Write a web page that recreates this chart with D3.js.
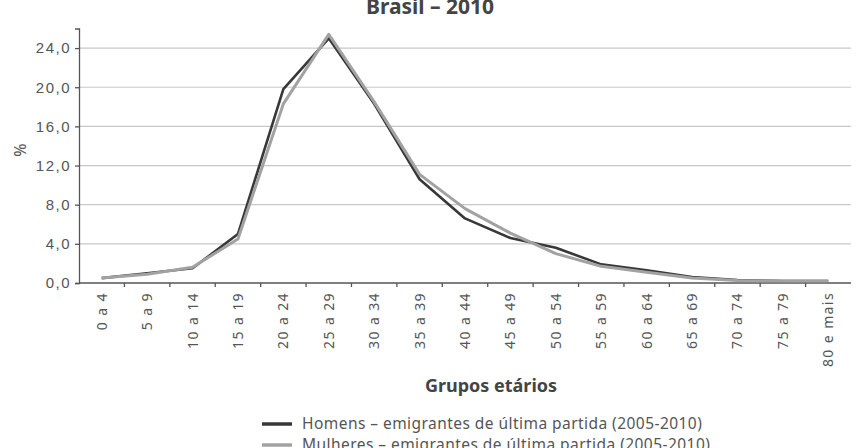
<!DOCTYPE html>
<meta charset='utf-8'>
<head>
  <style>
    body { margin: 0; background: #fff; }
    svg { display: block; font-family: 'Noto Sans', 'Open Sans', sans-serif; }
    .grid line { stroke: #c8c8c8; stroke-width: 1.2; }
    .tick-lbl { fill: #555; font-size: 14px; letter-spacing: 1.4px; }
  </style>
</head>
<body>
<script src='https://d3js.org/d3.v7.min.js'></script>
<script>

var categorias = ['0 a 4', '5 a 9', '10 a 14', '15 a 19', '20 a 24', '25 a 29', '30 a 34', '35 a 39',
  '40 a 44', '45 a 49', '50 a 54', '55 a 59', '60 a 64', '65 a 69', '70 a 74', '75 a 79', '80 e mais'];
var homens   = [0.5, 1.0, 1.5, 5.0, 19.8, 25.0, 18.3, 10.6, 6.6, 4.6, 3.6, 1.9, 1.3, 0.6, 0.3, 0.2, 0.2];
var mulheres = [0.5, 0.9, 1.6, 4.5, 18.3, 25.4, 18.5, 11.1, 7.6, 5.1, 3.0, 1.7, 1.1, 0.5, 0.25, 0.2, 0.2];
var yTicks = [0, 4, 8, 12, 16, 20, 24];
var legenda = ['Homens – emigrantes de última partida (2005-2010)',
               'Mulheres – emigrantes de última partida (2005-2010)'];

var width = 868, height = 448;
var x0 = 79, x1 = 851, yBase = 283;

var x = d3.scaleBand().domain(categorias).range([x0, x1]).padding(0);
var y = d3.scaleLinear().domain([0, 26]).range([yBase, 28.5]);

var svg = d3.select('body').append('svg')
    .attr('width', width)
    .attr('height', height);

// title (top is cut off in the original too)
svg.append('text')
    .attr('x', 430).attr('y', 14)
    .attr('text-anchor', 'middle')
    .style('font-size', '21px').style('font-weight', 'bold').style('fill', '#444')
    .text('Brasil – 2010');

// grid
svg.append('g').attr('class', 'grid')
  .selectAll('line')
    .data(yTicks.filter(d => d > 0))
  .enter().append('line')
    .attr('x1', x0).attr('x2', x1)
    .attr('y1', d => y(d)).attr('y2', d => y(d));

// y axis
var fmt = d => d.toFixed(1).replace('.', ',');
var yAxis = svg.append('g')
    .attr('transform', 'translate(' + x0 + ',0)')
    .call(d3.axisLeft(y).tickValues(yTicks).tickSize(4).tickFormat(fmt));
yAxis.select('.domain').attr('stroke', '#555').attr('stroke-width', 1.3);
yAxis.selectAll('.tick line').attr('stroke', '#555').attr('stroke-width', 1.3);
yAxis.selectAll('.tick text')
    .attr('class', 'tick-lbl')
    .attr('x', -8)
    .style('font-size', '15px').style('letter-spacing', '1.5px');

// y label
svg.append('text')
    .attr('transform', 'translate(26,150) rotate(-90)')
    .attr('text-anchor', 'middle')
    .style('font-size', '16px').style('fill', '#555')
    .text('%');

// x axis
svg.append('line')
    .attr('x1', x0).attr('x2', x1)
    .attr('y1', yBase).attr('y2', yBase)
    .attr('stroke', '#555').attr('stroke-width', 1.3);

svg.append('g')
  .selectAll('line')
    .data(categorias.slice(1))
  .enter().append('line')
    .attr('x1', d => x(d)).attr('x2', d => x(d))
    .attr('y1', yBase).attr('y2', yBase + 4)
    .attr('stroke', '#555').attr('stroke-width', 1.3);

svg.append('g')
  .selectAll('text')
    .data(categorias)
  .enter().append('text')
    .attr('class', 'tick-lbl')
    .attr('transform', d => 'translate(' + (x(d) + x.bandwidth() / 2 + 5) + ',' + (yBase + 9) + ') rotate(-90)')
    .attr('text-anchor', 'end')
    .text(d => d);

svg.append('text')
    .attr('x', 491).attr('y', 392)
    .attr('text-anchor', 'middle')
    .style('font-size', '18px').style('font-weight', 'bold').style('fill', '#444')
    .text('Grupos etários');

// lines
var line = d3.line()
    .x((d, i) => x(categorias[i]) + x.bandwidth() / 2)
    .y(d => y(d));

var series = [
  {vals: homens, cor: '#383838', w: 2.6},
  {vals: mulheres, cor: '#a2a2a2', w: 3}
];

svg.selectAll('path.serie')
    .data(series)
  .enter().append('path')
    .attr('class', 'serie')
    .attr('fill', 'none')
    .attr('stroke', d => d.cor)
    .attr('stroke-width', d => d.w)
    .attr('stroke-linejoin', 'round')
    .attr('d', d => line(d.vals));

// legend
var leg = svg.append('g');
leg.selectAll('line')
    .data(series)
  .enter().append('line')
    .attr('x1', 262).attr('x2', 292)
    .attr('y1', (d, i) => 424 + i * 21).attr('y2', (d, i) => 424 + i * 21)
    .attr('stroke', d => d.cor).attr('stroke-width', 3.5);
leg.selectAll('text')
    .data(legenda)
  .enter().append('text')
    .attr('x', 302)
    .attr('y', (d, i) => 429 + i * 21)
    .style('font-size', '15.5px').style('fill', '#555').style('letter-spacing', '0.45px')
    .text(d => d);

</script>
</body>
